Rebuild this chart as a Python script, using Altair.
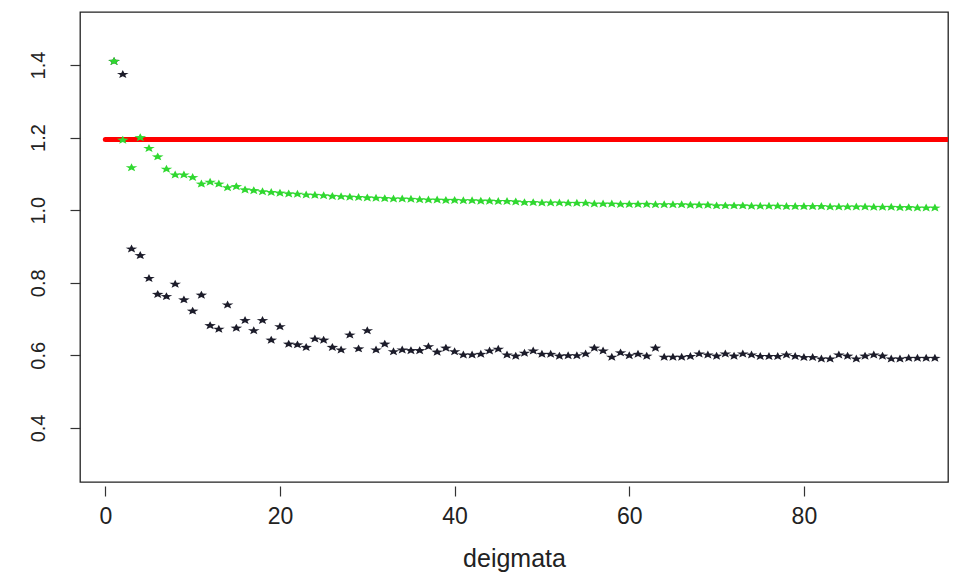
import altair as alt
import pandas as pd

# sample index (deigmata)
samples = list(range(1, 96))

black_vals = [
    1.410, 1.374, 0.893, 0.875, 0.812, 0.768, 0.762, 0.796, 0.753, 0.722,
    0.766, 0.682, 0.672, 0.739, 0.675, 0.696, 0.668, 0.696, 0.642, 0.679,
    0.631, 0.629, 0.622, 0.645, 0.642, 0.622, 0.615, 0.656, 0.618, 0.668,
    0.615, 0.631, 0.610, 0.615, 0.613, 0.613, 0.624, 0.609, 0.620, 0.610,
    0.601, 0.601, 0.603, 0.612, 0.617, 0.601, 0.598, 0.606, 0.612, 0.603,
    0.603, 0.598, 0.599, 0.599, 0.604, 0.620, 0.612, 0.595, 0.607, 0.599,
    0.603, 0.598, 0.620, 0.595, 0.595, 0.595, 0.597, 0.604, 0.601, 0.598,
    0.604, 0.598, 0.604, 0.601, 0.597, 0.597, 0.597, 0.601, 0.597, 0.594,
    0.594, 0.590, 0.590, 0.601, 0.598, 0.590, 0.598, 0.601, 0.598, 0.590,
    0.590, 0.592, 0.592, 0.592, 0.592,
]

green_vals = [
    1.410, 1.193, 1.117, 1.200, 1.170, 1.147, 1.113, 1.097, 1.097, 1.090,
    1.072, 1.077, 1.072, 1.062, 1.065, 1.056, 1.054, 1.051, 1.049, 1.047,
    1.045, 1.044, 1.042, 1.041, 1.040, 1.038, 1.037, 1.036, 1.035, 1.034,
    1.033, 1.032, 1.031, 1.031, 1.030, 1.029, 1.028, 1.028, 1.027, 1.027,
    1.026, 1.026, 1.025, 1.025, 1.024, 1.024, 1.023, 1.021, 1.021, 1.020,
    1.020, 1.020, 1.019, 1.019, 1.019, 1.017, 1.017, 1.017, 1.016, 1.016,
    1.016, 1.016, 1.015, 1.015, 1.015, 1.015, 1.014, 1.014, 1.014, 1.012,
    1.012, 1.012, 1.012, 1.011, 1.011, 1.011, 1.011, 1.010, 1.010, 1.010,
    1.010, 1.010, 1.009, 1.009, 1.009, 1.009, 1.009, 1.008, 1.008, 1.008,
    1.007, 1.007, 1.006, 1.006, 1.006,
]

ref_level = [1.195]
ref_start = [0]
ref_end = [100]

x_ticks = [0, 20, 40, 60, 80]
y_ticks = [0.4, 0.6, 0.8, 1.0, 1.2, 1.4]
x_title = "deigmata"

df_black = pd.DataFrame({"x": samples, "y": black_vals})
df_green = pd.DataFrame({"x": samples, "y": green_vals})
df_ref = pd.DataFrame({"x0": ref_start, "x1": ref_end, "y": ref_level})

# a horizontally stretched five-pointed star, like R's "*" in the stretched original
STAR = ("M0,-0.72 L0.247,-0.245 L0.951,-0.222 L0.399,0.094 L0.588,0.582 "
        "L0,0.302 L-0.588,0.582 L-0.399,0.094 L-0.951,-0.222 L-0.247,-0.245 Z")

FONT = "Liberation Sans"
xs = alt.Scale(domain=[-2.9, 96.5], nice=False, zero=False)
ys = alt.Scale(domain=[0.251, 1.546], nice=False, zero=False)

xaxis = alt.Axis(values=x_ticks, grid=False, domain=False, tickSize=10, tickWidth=1.2,
                 tickColor="#333333", offset=4, labelPadding=9, labelFontSize=23,
                 labelFont=FONT, labelColor="#222222", title=x_title, titleFont=FONT,
                 titleFontSize=25, titleFontWeight="normal", titleColor="#222222",
                 titlePadding=18)
yaxis = alt.Axis(values=y_ticks, format=".1f", grid=False, domain=False, tickSize=10,
                 tickWidth=1.2, tickColor="#333333", labelAngle=270, labelAlign="center",
                 labelBaseline="bottom", labelPadding=22, labelFontSize=20, labelFont=FONT,
                 labelColor="#222222", title="")

red = alt.Chart(df_ref).mark_rule(color="#ff0000", strokeWidth=5, strokeCap="round",
                                  clip=True).encode(
    x=alt.X("x0:Q", scale=xs, axis=xaxis),
    x2="x1:Q",
    y=alt.Y("y:Q", scale=ys, axis=yaxis),
)

black = alt.Chart(df_black).mark_point(shape=STAR, filled=True, size=150, opacity=1,
                                       color="#1c1c2a", clip=True).encode(
    x=alt.X("x:Q", scale=xs, axis=xaxis),
    y=alt.Y("y:Q", scale=ys, axis=yaxis),
)

green = alt.Chart(df_green).mark_point(shape=STAR, filled=True, size=150, opacity=1,
                                       color="#30d830", clip=True).encode(
    x=alt.X("x:Q", scale=xs, axis=xaxis),
    y=alt.Y("y:Q", scale=ys, axis=yaxis),
)

chart = alt.layer(red, black, green).properties(
    width=868, height=470,
    autosize=alt.AutoSizeParams(type="none"),
    padding={"left": 80, "top": 12, "right": 9, "bottom": 90},
    background="white",
).configure_view(stroke="#222222", strokeWidth=1.3)

chart.save("out.html", embed_options={"renderer": "svg", "actions": False})
